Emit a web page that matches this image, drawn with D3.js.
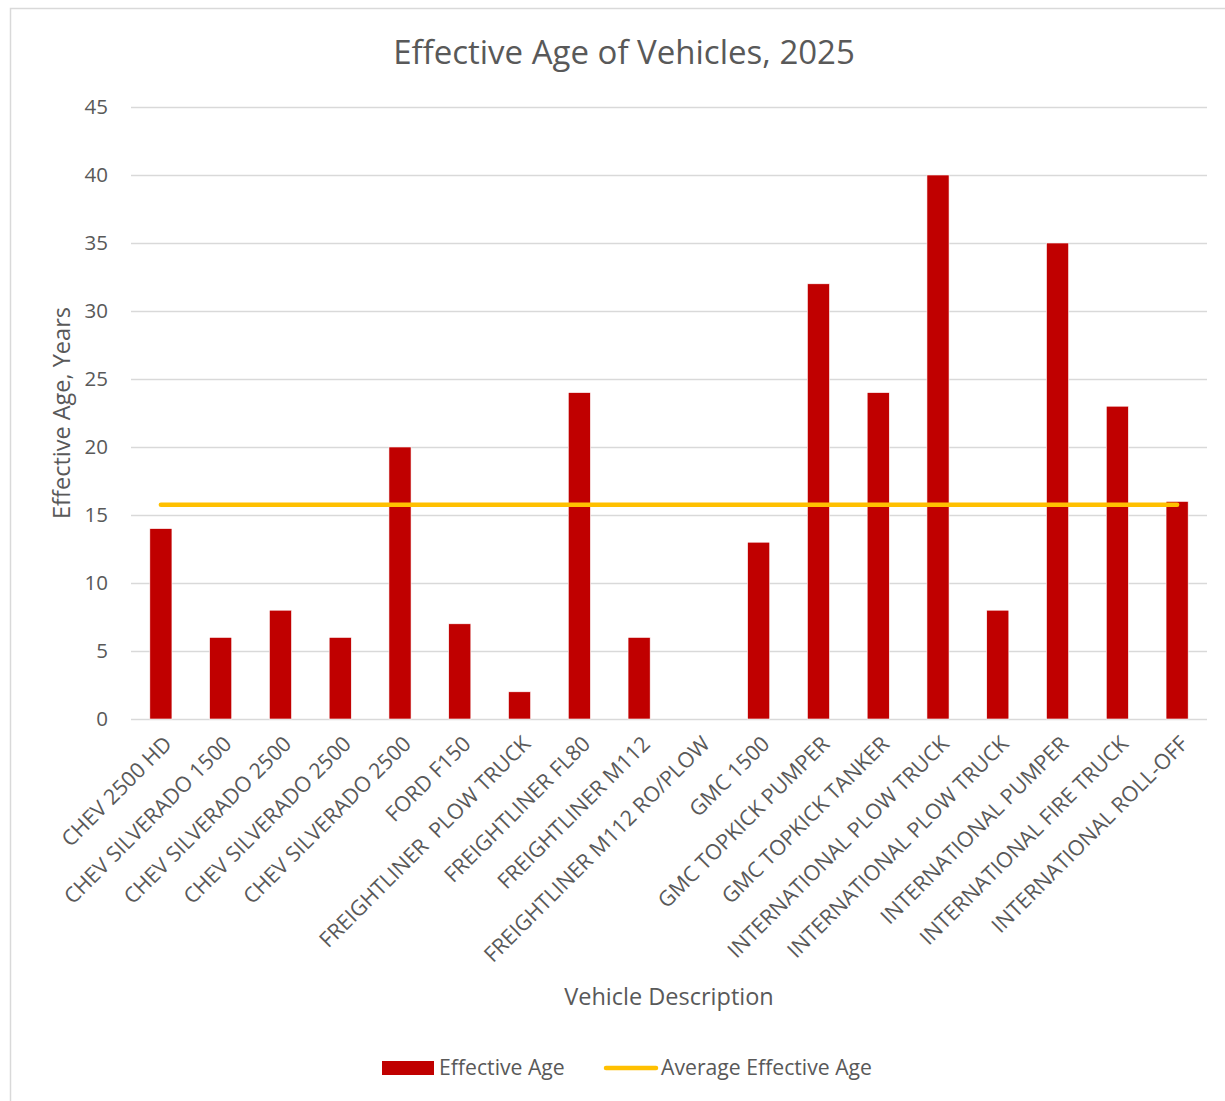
<!DOCTYPE html>
<html>
<head>
<meta charset="utf-8">
<script src="https://cdn.jsdelivr.net/npm/d3@7.9.0/dist/d3.min.js"></script>
<style>
  body { margin: 0; background: #fff; }
  svg text { font-family: "Open Sans", sans-serif; fill: #595959; }
</style>
</head>
<body>
<svg id="chart" width="1225" height="1101"></svg>
<script>
// vehicle names along the x axis
const vehicles = [
  'CHEV 2500 HD', 'CHEV SILVERADO 1500', 'CHEV SILVERADO 2500', 'CHEV SILVERADO 2500',
  'CHEV SILVERADO 2500', 'FORD F150', 'FREIGHTLINER  PLOW TRUCK', 'FREIGHTLINER FL80',
  'FREIGHTLINER M112', 'FREIGHTLINER M112 RO/PLOW', 'GMC 1500', 'GMC TOPKICK PUMPER',
  'GMC TOPKICK TANKER', 'INTERNATIONAL PLOW TRUCK', 'INTERNATIONAL PLOW TRUCK',
  'INTERNATIONAL PUMPER', 'INTERNATIONAL FIRE TRUCK', 'INTERNATIONAL ROLL-OFF'
];
// effective age (years), null = no bar
const effectiveAge = [14, 6, 8, 6, 20, 7, 2, 24, 6, null, 13, 32, 24, 40, 8, 35, 23, 16];
// average line value
const averageAge = 15.75;
const yTicks = [0, 5, 10, 15, 20, 25, 30, 35, 40, 45];

const svg = d3.select('#chart');

// outer chart border
svg.append('rect')
  .attr('x', 10.5).attr('y', 8.5)
  .attr('width', 1240).attr('height', 1120)
  .attr('fill', 'none').attr('stroke', '#d9d9d9').attr('stroke-width', 1.5);

const keys = vehicles.map((d, i) => i);

const x = d3.scaleBand()
  .domain(keys)
  .range([131, 1207])
  .paddingInner(0.63)
  .paddingOuter(0.315);

const y = d3.scaleLinear().domain([0, 45]).range([719, 107]);

// gridlines
svg.append('g')
  .selectAll('line')
  .data(yTicks)
  .join('line')
  .attr('x1', 131).attr('x2', 1207)
  .attr('y1', d => y(d) + 0.5).attr('y2', d => y(d) + 0.5)
  .attr('stroke', '#d9d9d9').attr('stroke-width', 1.5);

// y tick labels
svg.append('g')
  .selectAll('text')
  .data(yTicks)
  .join('text')
  .attr('x', 108)
  .attr('y', d => y(d))
  .attr('dy', '0.35em')
  .attr('text-anchor', 'end')
  .style('font-size', '20.5px')
  .text(d => d);

// bars
svg.append('g')
  .selectAll('rect')
  .data(effectiveAge.map((v, i) => ({ i, v })).filter(d => d.v != null))
  .join('rect')
  .attr('x', d => x(d.i))
  .attr('y', d => y(d.v))
  .attr('width', x.bandwidth())
  .attr('height', d => y(0) - y(d.v))
  .attr('fill', '#c00000')
  .attr('stroke', '#fff')
  .attr('stroke-width', 0.6);

// average line
const line = d3.line()
  .x(d => x(d.i) + x.bandwidth() / 2)
  .y(d => y(d.v));
svg.append('path')
  .datum(keys.map(i => ({ i, v: averageAge })))
  .attr('d', line)
  .attr('fill', 'none')
  .attr('stroke', '#ffc000')
  .attr('stroke-width', 4.5)
  .attr('stroke-linecap', 'round');

// category labels, rotated
svg.append('g')
  .selectAll('text')
  .data(keys)
  .join('text')
  .attr('transform', i => `translate(${x(i) + x.bandwidth() / 2 + 7},${740}) rotate(-45)`)
  .attr('text-anchor', 'end')
  .attr('dy', '0.35em')
  .style('font-size', '21.4px')
  .style('white-space', 'pre')
  .text(i => vehicles[i]);

// title
svg.append('text')
  .attr('x', 624).attr('y', 64)
  .attr('text-anchor', 'middle')
  .style('font-size', '33px')
  .text('Effective Age of Vehicles, 2025');

// axis titles
svg.append('text')
  .attr('transform', 'translate(70,413) rotate(-90)')
  .attr('text-anchor', 'middle')
  .style('font-size', '23.5px')
  .text('Effective Age, Years');

svg.append('text')
  .attr('x', 669).attr('y', 1005)
  .attr('text-anchor', 'middle')
  .style('font-size', '23.5px')
  .text('Vehicle Description');

// legend
const lg = svg.append('g');
lg.append('rect')
  .attr('x', 382).attr('y', 1061).attr('width', 52).attr('height', 14)
  .attr('fill', '#c00000');
lg.append('text')
  .attr('x', 439).attr('y', 1068).attr('dy', '0.35em')
  .style('font-size', '21.2px')
  .text('Effective Age');
lg.append('line')
  .attr('x1', 606).attr('x2', 656).attr('y1', 1068).attr('y2', 1068)
  .attr('stroke', '#ffc000').attr('stroke-width', 4.5).attr('stroke-linecap', 'round');
lg.append('text')
  .attr('x', 661).attr('y', 1068).attr('dy', '0.35em')
  .style('font-size', '21.2px')
  .text('Average Effective Age');
</script>
</body>
</html>
